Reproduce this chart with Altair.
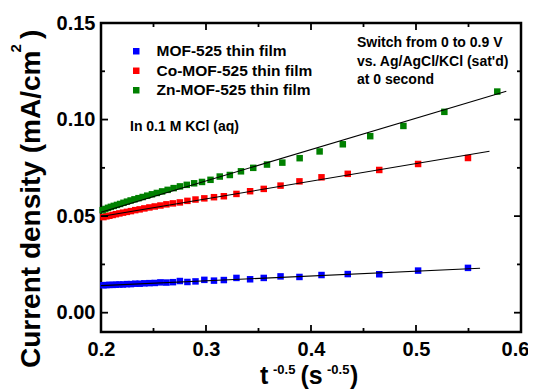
import altair as alt
import pandas as pd

FONT = "Liberation Sans"

# ---- data ----
series_names = ["MOF-525 thin film", "Co-MOF-525 thin film", "Zn-MOF-525 thin film"]
series_colors = ["#0000FF", "#FF0000", "#008000"]

zn_x = [0.5774, 0.5270, 0.4880, 0.4564, 0.4303, 0.4082, 0.3892, 0.3727, 0.3581, 0.3450,
        0.3333, 0.3227, 0.3131, 0.3043, 0.2962, 0.2887, 0.2817, 0.2752, 0.2692, 0.2635,
        0.2582, 0.2532, 0.2485, 0.2440, 0.2397, 0.2357, 0.2319, 0.2282, 0.2247, 0.2214,
        0.2182, 0.2152, 0.2122, 0.2094, 0.2067, 0.2041, 0.2016]
zn_y = [0.1145, 0.1040, 0.0967, 0.0914, 0.0872, 0.0835, 0.0800, 0.0777, 0.0767, 0.0750,
        0.0732, 0.0713, 0.0705, 0.0688, 0.0677, 0.0670, 0.0662, 0.0654, 0.0645, 0.0636,
        0.0628, 0.0620, 0.0613, 0.0606, 0.0599, 0.0593, 0.0587, 0.0581, 0.0575, 0.0569,
        0.0563, 0.0558, 0.0553, 0.0548, 0.0543, 0.0537, 0.0531]

co_x = [0.5495, 0.5020, 0.4650, 0.4350, 0.4100, 0.3890, 0.3710, 0.3550, 0.3420, 0.3290,
        0.3170, 0.3076, 0.2984, 0.2900, 0.2823, 0.2751, 0.2685, 0.2623, 0.2566, 0.2512,
        0.2461, 0.2413, 0.2368, 0.2326, 0.2285, 0.2247, 0.2210, 0.2175, 0.2142, 0.2111,
        0.2080, 0.2051, 0.2023]
co_y = [0.0801, 0.0770, 0.0739, 0.0719, 0.0701, 0.0680, 0.0658, 0.0641, 0.0629, 0.0615,
        0.0603, 0.0598, 0.0592, 0.0586, 0.0579, 0.0571, 0.0566, 0.0561, 0.0555, 0.0550,
        0.0545, 0.0540, 0.0535, 0.0531, 0.0526, 0.0522, 0.0518, 0.0514, 0.0510, 0.0506,
        0.0502, 0.0499, 0.0495]

mof_x = co_x
mof_y = [0.0232, 0.0218, 0.0199, 0.0200, 0.0195, 0.0185, 0.0188, 0.0180, 0.0173, 0.0180,
         0.0169, 0.0166, 0.0170, 0.0162, 0.0159, 0.0164, 0.0158, 0.0156, 0.0157, 0.0154,
         0.0153, 0.0152, 0.0150, 0.0150, 0.0148, 0.0148, 0.0146, 0.0146, 0.0145, 0.0144,
         0.0144, 0.0143, 0.0142]

# linear fit lines (end points)
fit_mof_x = [0.200, 0.561]
fit_mof_y = [0.0140, 0.0230]
fit_co_x = [0.200, 0.570]
fit_co_y = [0.0498, 0.0836]
fit_zn_x = [0.200, 0.586]
fit_zn_y = [0.0520, 0.1147]

x_major = [0.3, 0.4, 0.5]
x_minor = [0.25, 0.35, 0.45, 0.55]
y_major = [0.0, 0.05, 0.10]
y_minor = [0.025, 0.075, 0.125]
x_labels = [0.2, 0.3, 0.4, 0.5, 0.6]
y_labels = [0.0, 0.05, 0.10, 0.15]

# ---- tables ----
pts = pd.concat([
    pd.DataFrame({"x": mof_x, "y": mof_y, "series": series_names[0]}),
    pd.DataFrame({"x": co_x, "y": co_y, "series": series_names[1]}),
    pd.DataFrame({"x": zn_x, "y": zn_y, "series": series_names[2]}),
], ignore_index=True)
fits = pd.concat([
    pd.DataFrame({"x": fit_mof_x, "y": fit_mof_y, "series": series_names[0]}),
    pd.DataFrame({"x": fit_co_x, "y": fit_co_y, "series": series_names[1]}),
    pd.DataFrame({"x": fit_zn_x, "y": fit_zn_y, "series": series_names[2]}),
], ignore_index=True)

W, H = 420, 309
xscale = alt.Scale(domain=[0.2, 0.6], nice=False, zero=False)
yscale = alt.Scale(domain=[-0.01, 0.15], nice=False, zero=False)

x_axis = alt.Axis(values=x_labels, format=".1f", labelFontSize=20, labelFontWeight="bold",
                  labelFont=FONT, labelColor="black", ticks=False, tickSize=0, domain=False,
                  grid=False, title=None, labelPadding=7, labelFlush=False, labelOverlap=False,
                  labelOffset={"condition": {"test": "datum.value >= 0.59", "value": -6}, "value": 0})
y_axis = alt.Axis(values=y_labels, format=".2f", labelFontSize=20, labelFontWeight="bold",
                  labelFont=FONT, labelColor="black", ticks=False, tickSize=0, domain=False,
                  grid=False, title=None, labelPadding=6, labelOverlap=False)

points = alt.Chart(pts).mark_square(size=42, opacity=1).encode(
    x=alt.X("x:Q", scale=xscale, axis=x_axis),
    y=alt.Y("y:Q", scale=yscale, axis=y_axis),
    color=alt.Color("series:N",
                    scale=alt.Scale(domain=series_names, range=series_colors),
                    sort=series_names,
                    legend=alt.Legend(orient="none", legendX=27.5, legendY=20.5, title=None,
                                      symbolType="square", symbolSize=42, symbolStrokeWidth=0,
                                      labelFontSize=15.5, labelFontWeight="bold", labelFont=FONT,
                                      labelColor="black", labelOffset=12.5, rowPadding=2.5,
                                      padding=0, labelLimit=300)),
)

lines = alt.Chart(fits).mark_line(color="black", strokeWidth=1.1).encode(
    x=alt.X("x:Q", scale=xscale, axis=x_axis),
    y=alt.Y("y:Q", scale=yscale, axis=y_axis),
    detail="series:N",
)

def xticks(vals, length):
    d = pd.DataFrame({"v": vals})
    bottom = alt.Chart(d).mark_rule(color="black", strokeWidth=1.8).encode(
        x=alt.X("v:Q", scale=xscale, axis=x_axis), y=alt.value(H), y2=alt.value(H - length))
    top = alt.Chart(d).mark_rule(color="black", strokeWidth=1.8).encode(
        x=alt.X("v:Q", scale=xscale, axis=x_axis), y=alt.value(0), y2=alt.value(length))
    return [bottom, top]

def yticks(vals, length):
    d = pd.DataFrame({"v": vals})
    left = alt.Chart(d).mark_rule(color="black", strokeWidth=1.8).encode(
        y=alt.Y("v:Q", scale=yscale, axis=y_axis), x=alt.value(0), x2=alt.value(length))
    right = alt.Chart(d).mark_rule(color="black", strokeWidth=1.8).encode(
        y=alt.Y("v:Q", scale=yscale, axis=y_axis), x=alt.value(W), x2=alt.value(W - length))
    return [left, right]

one = pd.DataFrame({"a": [0]})

def label(text, x, y, size, angle=0, lh=None):
    kw = dict(font=FONT, fontWeight="bold", fontSize=size, align="left",
              baseline="alphabetic", color="black", text=text)
    if angle:
        kw["angle"] = angle
    if lh:
        kw["lineHeight"] = lh
    return alt.Chart(one).mark_text(**kw).encode(x=alt.value(x), y=alt.value(y))

texts = [
    label("In 0.1 M KCl (aq)", 29, 107.5, 14),
    label(["Switch from 0 to 0.9 V", "vs. Ag/AgCl/KCl (sat'd)", "at 0 second"], 256, 24.3, 14, lh=18.5),
    # x title
    label("t", 159, 361, 25),
    label("-0.5", 172, 351, 13),
    label("(s", 199.5, 361, 25),
    label("-0.5", 226, 351, 13),
    label(")", 249, 361, 25),
    # y title
    label("Current density (mA/cm", -61, 345, 28, angle=270),
    label("2", -80, 29.5, 15, angle=270),
    label(")", -61, 16, 28, angle=270),
]

layers = [points, lines] + xticks(x_major, 7) + xticks(x_minor, 4) + yticks(y_major, 7) + yticks(y_minor, 4) + texts

chart = alt.layer(*layers).properties(
    width=W, height=H,
    autosize=alt.AutoSizeParams(type="none"),
    padding={"left": 93, "top": 15, "right": 7, "bottom": 58},
    background="white",
).configure_view(stroke="black", strokeWidth=2.5)

chart.save("out.html", embed_options={"renderer": "svg", "actions": False})
